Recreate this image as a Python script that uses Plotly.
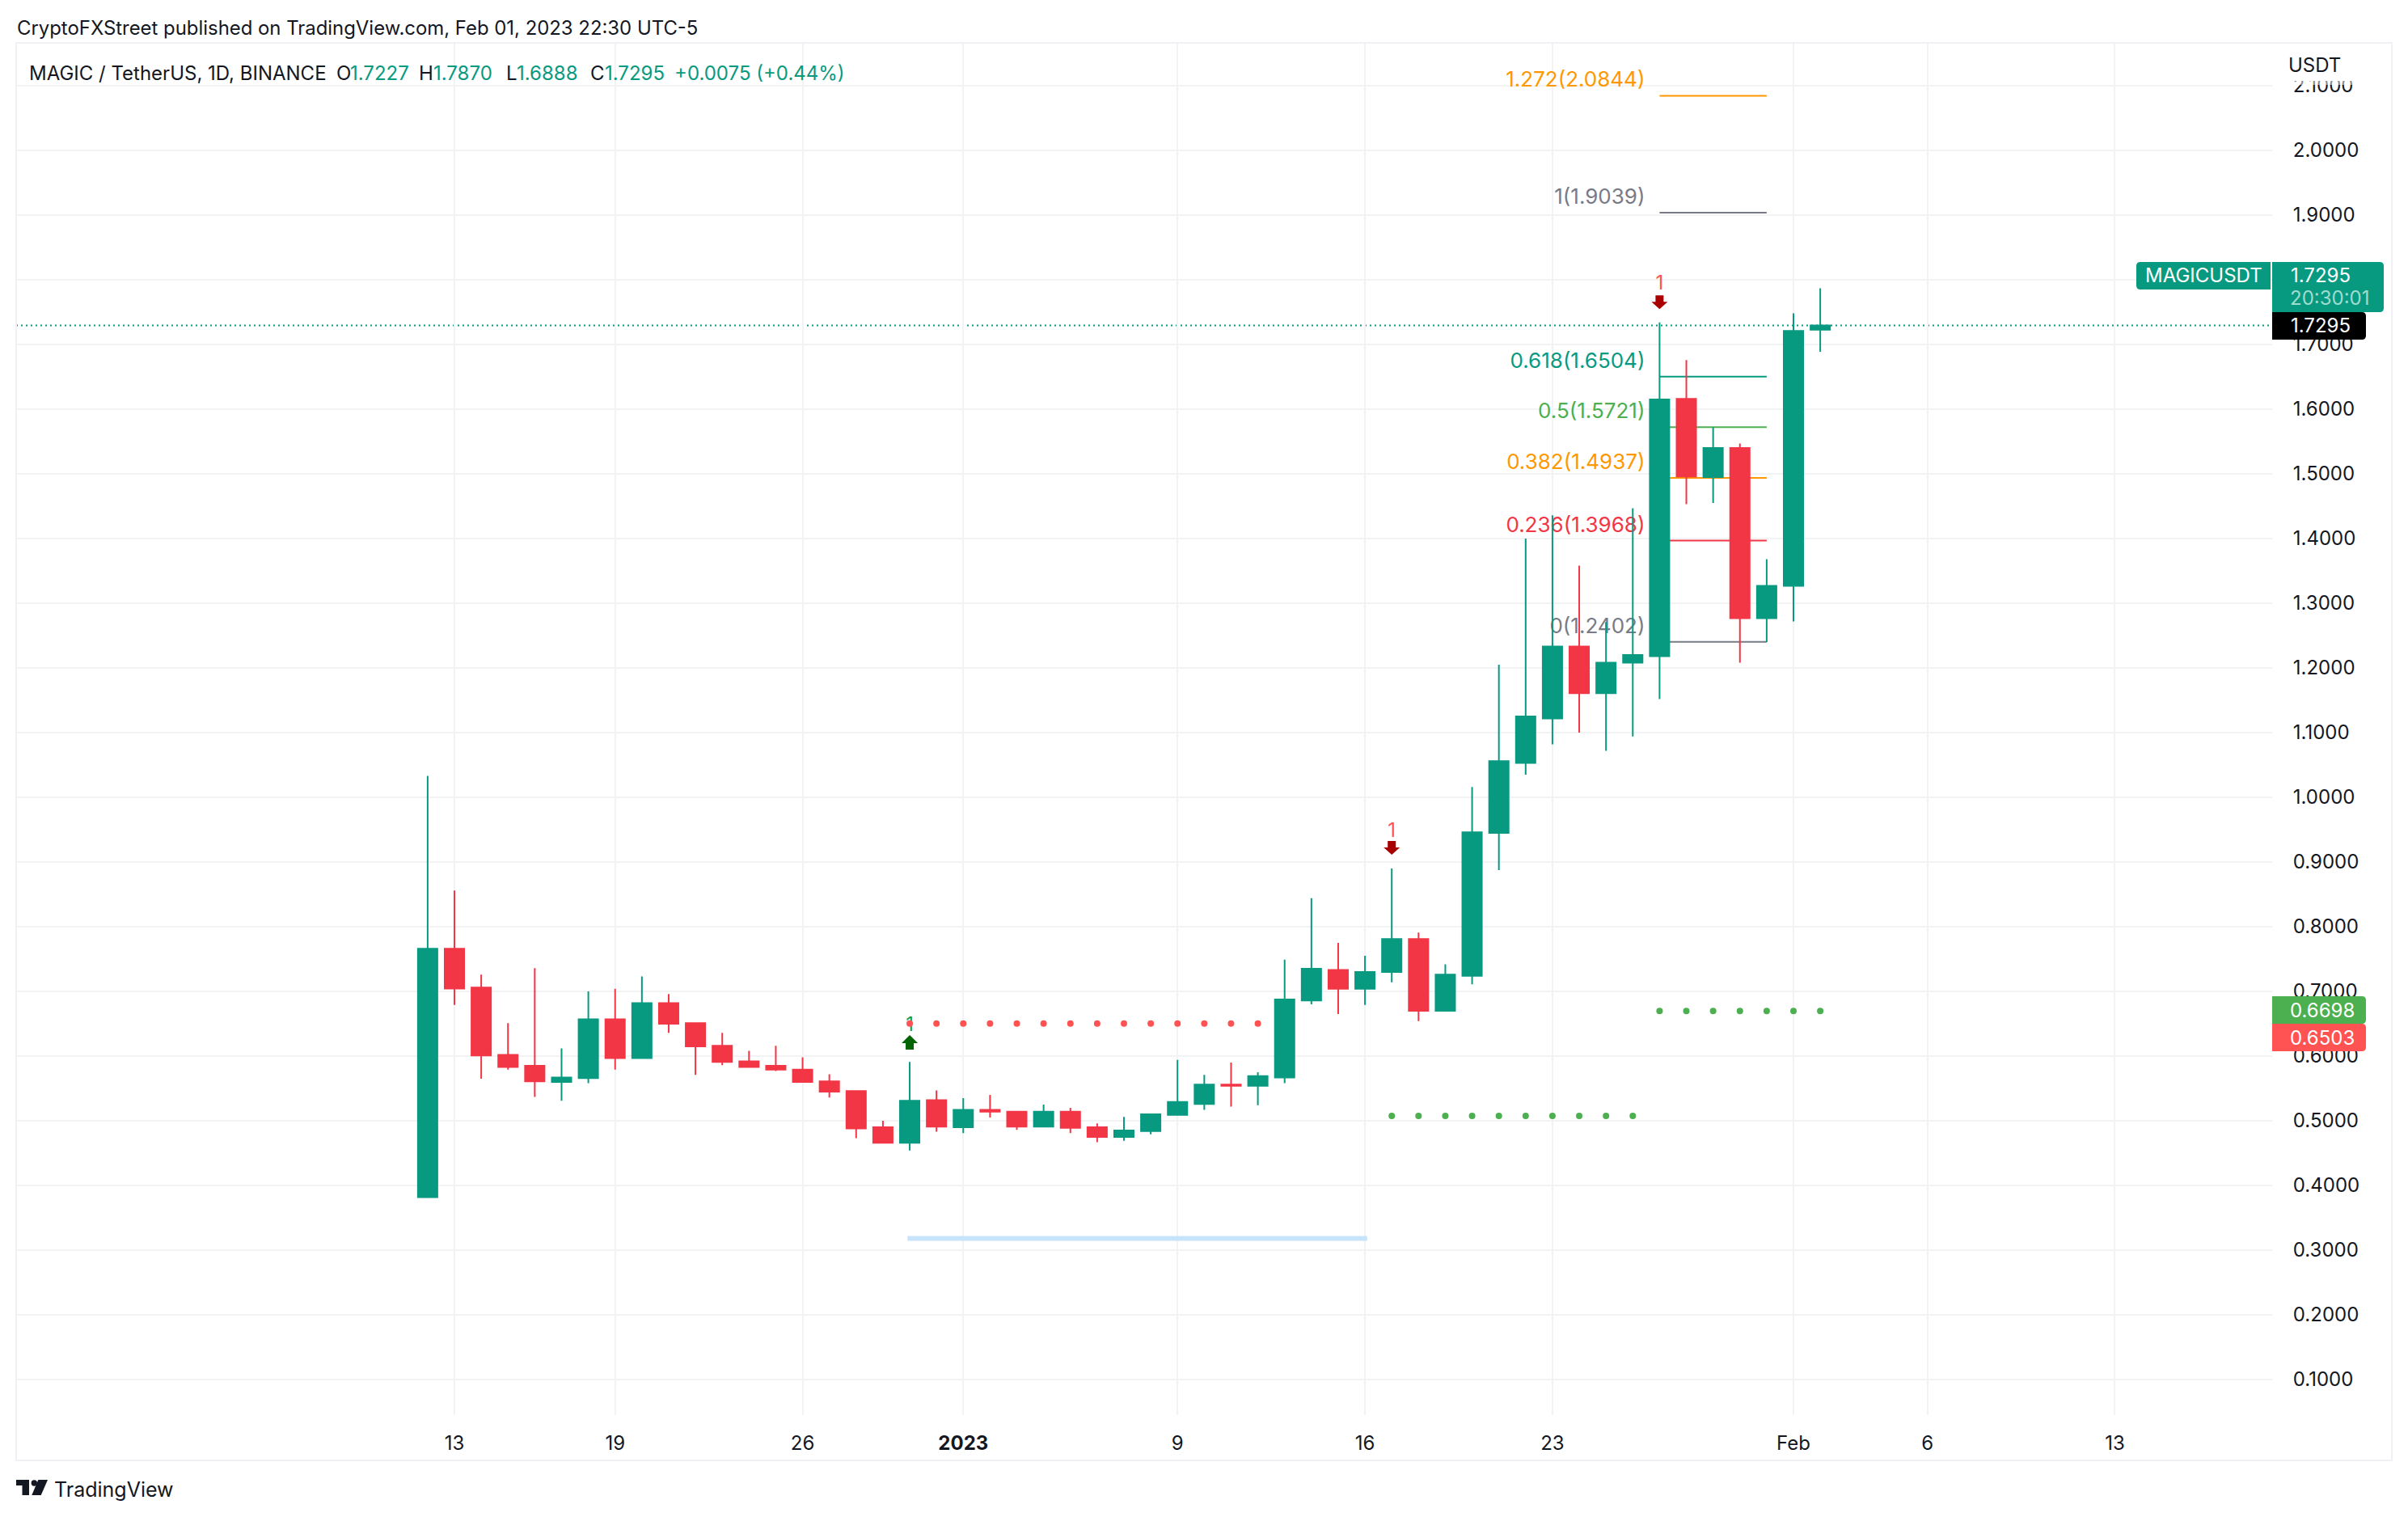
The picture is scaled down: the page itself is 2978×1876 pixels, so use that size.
import pandas as pd
import plotly.graph_objects as go

# the page keeps its 8px body margin, so the figure is 8px short of the window on each axis
PAGE = 8
W, H = 2978 - PAGE, 1876 - PAGE
FONT = "Inter"
GREEN = "#089981"
RED = "#f23645"
INK = "#131722"
GRID = "#f2f3f5"

# daily candles, Dec 12 2022 -> Feb 2 2023
dates = pd.date_range("2022-12-12", "2023-02-02", freq="D")
opens = [0.382, 0.766, 0.706, 0.602, 0.585, 0.560, 0.566, 0.657, 0.597, 0.682, 0.651, 0.616, 0.592, 0.585, 0.579, 0.561, 0.546, 0.490, 0.466, 0.532,
         0.490, 0.517, 0.514, 0.491, 0.514, 0.490, 0.475, 0.484, 0.509, 0.526, 0.556, 0.554, 0.567, 0.686, 0.733, 0.704, 0.730, 0.781, 0.670, 0.724,
         0.945, 1.053, 1.122, 1.233, 1.161, 1.208, 1.218, 1.616, 1.495, 1.540, 1.277, 1.327, 1.7227]
highs = [1.033, 0.856, 0.726, 0.651, 0.736, 0.612, 0.700, 0.704, 0.723, 0.696, 0.651, 0.636, 0.608, 0.616, 0.598, 0.572, 0.547, 0.500, 0.591, 0.547,
         0.535, 0.540, 0.515, 0.525, 0.520, 0.496, 0.506, 0.511, 0.594, 0.571, 0.590, 0.575, 0.749, 0.844, 0.775, 0.755, 0.890, 0.791, 0.742, 1.016,
         1.205, 1.400, 1.436, 1.358, 1.271, 1.447, 1.734, 1.676, 1.572, 1.547, 1.368, 1.748, 1.7870]
lows = [0.382, 0.679, 0.565, 0.579, 0.537, 0.531, 0.558, 0.579, 0.596, 0.636, 0.571, 0.586, 0.582, 0.577, 0.560, 0.536, 0.473, 0.465, 0.454, 0.483,
        0.481, 0.505, 0.486, 0.490, 0.481, 0.467, 0.469, 0.479, 0.508, 0.517, 0.522, 0.524, 0.558, 0.680, 0.665, 0.679, 0.714, 0.654, 0.670, 0.711,
        0.8875, 1.035, 1.082, 1.100, 1.072, 1.094, 1.152, 1.453, 1.455, 1.208, 1.240, 1.272, 1.6888]
closes = [0.766, 0.7045, 0.601, 0.583, 0.561, 0.567, 0.657, 0.597, 0.682, 0.650, 0.615, 0.591, 0.583, 0.579, 0.560, 0.545, 0.488, 0.466, 0.531, 0.491,
          0.517, 0.514, 0.491, 0.514, 0.489, 0.475, 0.485, 0.510, 0.529, 0.556, 0.554, 0.569, 0.6875, 0.735, 0.704, 0.730, 0.781, 0.670, 0.726, 0.946,
          1.056, 1.125, 1.233, 1.161, 1.208, 1.220, 1.615, 1.496, 1.540, 1.277, 1.327, 1.721, 1.7295]

# supertrend style dots
red_dot_dates = pd.date_range("2022-12-30", "2023-01-12", freq="D")
red_dot_level = 0.6503
low_dot_dates = pd.date_range("2023-01-17", "2023-01-26", freq="D")
low_dot_level = 0.5076
high_dot_dates = pd.date_range("2023-01-27", "2023-02-02", freq="D")
high_dot_level = 0.6698

# fib retracement
fib_start, fib_end = "2023-01-27", "2023-01-31"
fib_ratios = ["1.272", "1", "0.618", "0.5", "0.382", "0.236", "0"]
fib_prices = [2.0844, 1.9039, 1.6504, 1.5721, 1.4937, 1.3968, 1.2402]
fib_colors = ["#ff9800", "#787b86", GREEN, "#4caf50", "#ff9800", RED, "#787b86"]

# horizontal drawing
blue_start, blue_end, blue_level = "2022-12-29 22:00", "2023-01-16 02:00", 0.318

# signals
up_date, up_price, up_text_price = "2022-12-30", 0.61, 0.646
down_dates = ["2023-01-17", "2023-01-27"]
down_prices = [0.9325, 1.776]
down_text_prices = [0.946, 1.793]

last_price = closes[-1]
ytick_vals = [0.1, 0.2, 0.3, 0.4, 0.5, 0.6, 0.7, 0.8, 0.9, 1.0, 1.1, 1.2, 1.3, 1.4, 1.5, 1.6, 1.7, 1.8, 1.9, 2.0, 2.1]
# 1.8000 sits fully behind the last price label
ytick_text = ["" if v == 1.8 else f"{v:.4f}" for v in ytick_vals]
xtick_vals = ["2022-12-13", "2022-12-19", "2022-12-26", "2023-01-01", "2023-01-09", "2023-01-16", "2023-01-23", "2023-02-01", "2023-02-06", "2023-02-13"]
xtick_text = ["13", "19", "26", "<b>2023</b>", "9", "16", "23", "Feb", "6", "13"]

PANE_L, PANE_R, PANE_T, PANE_B = 20, 2810, 53, 1750
BAR_PX = 33.12
X_ORIGIN = pd.Timestamp("2022-12-13")
X_ORIGIN_PX = 562
Y1_PX, PX_PER_UNIT = 986, 800


def px_date(px):
    return X_ORIGIN + pd.Timedelta(days=(px - X_ORIGIN_PX) / BAR_PX)


def paper_x(x):
    return (x - PAGE) / W


def paper_y(y):
    return 1 - (y - PAGE) / H


def label(x, y, text, color=INK, size=24, anchor="left"):
    return dict(x=paper_x(x), y=paper_y(y), xref="paper", yref="paper", text=text, showarrow=False,
                xanchor=anchor, yanchor="middle", align="left", borderpad=0,
                font=dict(family=FONT, size=size, color=color))


def box(x0, y0, x1, y1, color, left_r=0, right_r=0):
    # rounded box in pixels, anchored on the paper
    w, h = x1 - x0, y1 - y0
    path = (f"M{left_r},0 L{w - right_r},0 Q{w},0 {w},{right_r} L{w},{h - right_r} Q{w},{h} {w - right_r},{h} "
            f"L{left_r},{h} Q0,{h} 0,{h - left_r} L0,{left_r} Q0,0 {left_r},0 Z")
    return dict(type="path", path=path, xref="paper", yref="paper", xsizemode="pixel", ysizemode="pixel",
                xanchor=paper_x(x0), yanchor=paper_y(y1), fillcolor=color, line=dict(width=0), layer="above")


def glyph(path, x, y, color):
    return dict(type="path", path=path, xref="x", yref="y", xsizemode="pixel", ysizemode="pixel",
                xanchor=x, yanchor=y, fillcolor=color, line=dict(width=0), layer="above")


def logo_part(path):
    return dict(type="path", path=path, xref="paper", yref="paper", xsizemode="pixel", ysizemode="pixel",
                xanchor=paper_x(20), yanchor=paper_y(1849), fillcolor=INK, line=dict(width=0), layer="above")


UP_ARROW = "M-5,0 L5,0 L5,8 L10,8 L0,18 L-10,8 L-5,8 Z"
DOWN_ARROW = "M-5,0 L5,0 L5,-8 L10,-8 L0,-17 L-10,-8 L-5,-8 Z"

fig = go.Figure()
fig.add_trace(go.Candlestick(
    x=dates, open=opens, high=highs, low=lows, close=closes,
    whiskerwidth=0,
    increasing=dict(line=dict(color=GREEN, width=2), fillcolor=GREEN),
    decreasing=dict(line=dict(color=RED, width=2), fillcolor=RED),
    showlegend=False,
))
# signal numbers first so the dots sit on top of them
fig.add_trace(go.Scatter(x=[up_date], y=[up_text_price], mode="text", text=["1"],
                         textfont=dict(family=FONT, size=24, color="#1b9e4b"), showlegend=False))
fig.add_trace(go.Scatter(x=down_dates, y=down_text_prices, mode="text", text=["1", "1"],
                         textfont=dict(family=FONT, size=24, color="#ff5252"), showlegend=False))
fig.add_trace(go.Scatter(x=red_dot_dates, y=[red_dot_level] * len(red_dot_dates), mode="markers",
                         marker=dict(color="#ff5252", size=8), showlegend=False))
fig.add_trace(go.Scatter(x=low_dot_dates, y=[low_dot_level] * len(low_dot_dates), mode="markers",
                         marker=dict(color="#4caf50", size=8), showlegend=False))
fig.add_trace(go.Scatter(x=high_dot_dates, y=[high_dot_level] * len(high_dot_dates), mode="markers",
                         marker=dict(color="#4caf50", size=8), showlegend=False))

shapes = []
# fib levels go under the candles, text too
label_end = pd.Timestamp(fib_start) - pd.Timedelta(days=17 / BAR_PX)
label_start = label_end - pd.Timedelta(days=1 / BAR_PX)
for ratio, price, color in zip(fib_ratios, fib_prices, fib_colors):
    shapes.append(dict(type="line", xref="x", yref="y", x0=fib_start, x1=fib_end, y0=price, y1=price,
                       line=dict(color=color, width=2), layer="between"))
    shapes.append(dict(type="line", xref="x", yref="y", x0=label_start, x1=label_end, y0=price, y1=price,
                       line=dict(width=0), layer="between",
                       label=dict(text=f"{ratio}({price:.4f})", textposition="start", xanchor="right", yanchor="bottom",
                                  padding=6, font=dict(family=FONT, size=26, color=color))))
shapes.append(dict(type="line", xref="x", yref="y", x0=blue_start, x1=blue_end, y0=blue_level, y1=blue_level,
                   line=dict(color="#c8e4fb", width=6), layer="between"))
shapes.append(dict(type="line", xref="paper", yref="y", x0=paper_x(PANE_L), x1=paper_x(PANE_R), y0=last_price, y1=last_price,
                   line=dict(color=GREEN, width=2, dash="2px,4px"), layer="between"))

# arrows
shapes.append(glyph(UP_ARROW, up_date, up_price, "#006400"))
for d, p in zip(down_dates, down_prices):
    shapes.append(glyph(DOWN_ARROW, d, p, "#a80000"))

# frame
shapes.append(dict(type="rect", xref="paper", yref="paper", x0=paper_x(PANE_L), x1=paper_x(2958), y0=paper_y(53), y1=paper_y(1806),
                   line=dict(color="#f0f0f5", width=2), layer="above"))
# top tick label is cut off under the currency title
shapes.append(dict(type="rect", xref="paper", yref="paper", x0=paper_x(2812), x1=paper_x(2956), y0=paper_y(55), y1=paper_y(100),
                   fillcolor="white", line=dict(width=0), layer="above"))
shapes.append(dict(type="rect", xref="paper", yref="paper", x0=paper_x(2812), x1=paper_x(2956), y0=paper_y(100), y1=paper_y(105),
                   fillcolor="rgba(255,255,255,0.5)", line=dict(width=0), layer="above"))

# price labels
shapes.append(box(2642, 324, 2808, 358, GREEN, left_r=5))
shapes.append(box(2810, 324, 2948, 386, GREEN, right_r=5))
shapes.append(box(2810, 386, 2926, 420, "#000000", right_r=5))
shapes.append(box(2810, 1232, 2926, 1266, "#4caf50", right_r=5))
shapes.append(box(2810, 1266, 2926, 1300, "#ff5252", right_r=5))

# logo
shapes.append(logo_part("M0,19 L16,19 L16,0 L7.5,0 L7.5,12 L0,12 Z"))
shapes.append(logo_part("M27.3,19 L39,19 L30.7,0 L19.3,0 Z"))
shapes.append(logo_part("M18.6,15 Q18.6,18.7 22.3,18.7 Q26,18.7 26,15 Q26,11.3 22.3,11.3 Q18.6,11.3 18.6,15 Z"))

annotations = [
    label(20, 35, "CryptoFXStreet published on TradingView.com, Feb 01, 2023 22:30 UTC-5", size=23.9),
    label(35, 90, "MAGIC / TetherUS, 1D, BINANCE"),
    label(415, 90, "O"), label(432, 90, f"{opens[-1]:.4f}", GREEN),
    label(517, 90, "H"), label(535, 90, f"{highs[-1]:.4f}", GREEN),
    label(625, 90, "L"), label(638, 90, f"{lows[-1]:.4f}", GREEN),
    label(729, 90, "C"), label(747, 90, f"{last_price:.4f}", GREEN),
    label(833, 90, "+0.0075 (+0.44%)", GREEN),
    label(2829, 81, "USDT"),
    label(2652, 340, "MAGICUSDT", "white"),
    label(2832, 340, f"{last_price:.4f}", "white"),
    label(2831, 368, "20:30:01", "#9fdccf"),
    label(2832, 403, f"{last_price:.4f}", "white"),
    label(2831, 1249, f"{high_dot_level:.4f}", "white"),
    label(2831, 1283, f"{red_dot_level:.4f}", "white"),
    label(66, 1842, "TradingView", size=25),
]

fig.update_layout(
    width=W, height=H,
    margin=dict(l=0, r=0, t=0, b=0, pad=0),
    paper_bgcolor="white", plot_bgcolor="white",
    boxgap=0.275, boxgroupgap=0,
    showlegend=False,
    font=dict(family=FONT, size=24, color=INK),
    shapes=shapes,
    annotations=annotations,
    xaxis=dict(
        type="date",
        domain=[paper_x(PANE_L), paper_x(PANE_R)],
        range=[px_date(PANE_L), px_date(PANE_R)],
        tickvals=xtick_vals, ticktext=xtick_text,
        ticks="outside", ticklen=13, tickcolor="white",
        showgrid=True, gridcolor=GRID, gridwidth=2,
        zeroline=False, showline=False,
        rangeslider=dict(visible=False),
        tickfont=dict(family=FONT, size=24, color=INK),
    ),
    yaxis=dict(
        side="right",
        domain=[paper_y(PANE_B), paper_y(PANE_T)],
        range=[1 + (Y1_PX - PANE_B) / PX_PER_UNIT, 1 + (Y1_PX - PANE_T) / PX_PER_UNIT],
        tickvals=ytick_vals, ticktext=ytick_text,
        ticks="outside", ticklen=20, tickcolor="white",
        showgrid=True, gridcolor=GRID, gridwidth=2,
        zeroline=False, showline=False,
        tickfont=dict(family=FONT, size=24, color=INK),
    ),
)

fig.write_html("out.html")
